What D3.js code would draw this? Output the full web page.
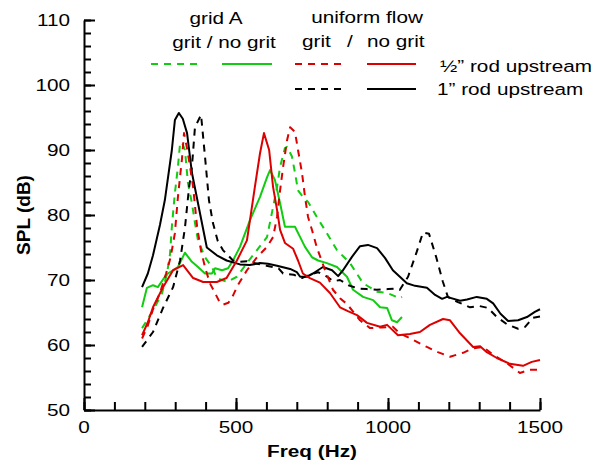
<!DOCTYPE html>
<meta charset="UTF-8">
<style>
    body { margin: 0; background: #fff; }
    text { font-family: "Liberation Sans", Arial, sans-serif; fill: #000; }
    .line { fill: none; stroke-width: 2px; stroke-linejoin: round; }
    .dash { stroke-dasharray: 7, 6; }
    .axis path, .axis line { stroke: #000; stroke-width: 2px; }
</style>
<body>
<div id="chart"></div>
<script src="https://d3js.org/d3.v7.min.js"></script>
<script>

// data: [freq (Hz), SPL (dB)]
var gridGrit = [[191,62.6],[207,63.8],[233,65.8],[257,68],[273,71],[283,74],[289,78.2],[299,83.4],[309,87.4],[316,91],[322,91.2],[332,90],[342,84.9],[355,81.8],[365,78.8],[375,76.1],[398,73.5],[421,72],[437,70.3],[454,70],[470,69.7],[503,70.5],[536,72.6],[569,74.6],[602,76.6],[618,80.3],[635,84.3],[645,87.4],[661,90.3],[668,90.5],[684,89],[694,86.5],[704,83.8],[720,82.8],[737,82],[766,79.7],[799,77.2],[832,74.6],[875,72.6],[918,69.5],[964,68.2],[997,68],[1039,67.2],[1046,67.4]];

var gridNoGrit = [[191,65.8],[207,68.8],[227,69.2],[243,68.9],[266,70.5],[276,71],[309,72],[332,74.2],[355,72.8],[375,72],[398,71],[421,71],[431,71.8],[454,71.5],[474,71.8],[490,73],[513,75.1],[546,79.2],[579,82.8],[602,85.8],[612,86.9],[628,85.4],[645,81.8],[661,78.2],[694,78.2],[711,76.6],[727,75.1],[750,73.5],[770,73],[799,72.6],[832,72],[865,70.5],[885,68.5],[918,67.4],[951,66.9],[974,65.8],[997,65.7],[1013,63.8],[1030,63.5],[1046,64.3]];

var halfRodGrit = [[191,61],[210,63],[227,65.5],[250,68],[270,71],[285,73.5],[299,77.2],[309,82.8],[322,88.5],[329,92.6],[340,90],[349,87.4],[359,84.3],[372,78.2],[385,74.5],[398,72],[414,69.5],[431,68],[447,66.5],[457,66.2],[475,66.5],[490,67.6],[506,69.2],[536,71.5],[569,73.5],[602,75.1],[622,76.6],[635,79.7],[645,83.8],[655,87.4],[668,91.5],[678,93.5],[694,92.8],[704,90],[717,86.5],[727,82.8],[737,79.7],[750,77.7],[766,75],[793,71.5],[819,68.5],[842,67.2],[865,66.3],[908,63.8],[941,62.6],[980,62.7],[1016,62.8],[1039,61.8],[1082,60.8],[1128,59.7],[1164,58.9],[1204,58.2],[1247,58.8],[1280,59.5],[1313,59.7],[1346,58.5],[1391,57.2],[1434,55.7],[1467,56.2],[1500,56.2]];

var halfRodNoGrit = [[191,61.5],[210,63.5],[227,65.8],[260,68.9],[293,71.5],[326,72.3],[359,70.3],[392,69.7],[437,69.7],[469,70.3],[503,73],[536,76.1],[546,79.2],[562,84.3],[579,89.5],[592,92.6],[609,90],[622,84.3],[635,80.8],[645,77.7],[661,75.7],[688,74.8],[704,73],[720,71],[743,70.3],[776,69.6],[809,68],[842,65.8],[868,65.2],[898,64.6],[931,63.4],[974,62.8],[997,63.1],[1033,61.5],[1072,61.7],[1105,62],[1138,63.1],[1181,64],[1204,63.8],[1237,61.8],[1280,59.7],[1303,59.8],[1325,58.9],[1358,58],[1401,57.1],[1444,56.8],[1473,57.4],[1500,57.7]];

var oneRodGrit = [[191,59.7],[227,62],[260,65.7],[293,68.9],[316,73],[332,78],[345,84],[355,87.4],[365,93.5],[385,95.4],[398,89],[411,82.3],[424,78.8],[440,76],[457,74.6],[490,73],[513,72.8],[535,72.9],[570,72.5],[600,72.2],[640,71.8],[655,71],[690,70.8],[717,70.3],[740,70.8],[770,71.2],[800,70.5],[820,69.8],[842,70],[870,69.2],[901,68.7],[930,68.6],[963,68.5],[1000,68.6],[1030,68.7],[1039,68.5],[1066,70.5],[1095,74.4],[1115,77.3],[1135,77.1],[1158,73.6],[1180,69.8],[1197,67.4],[1230,66.6],[1270,65.8],[1300,66],[1329,65.7],[1358,64.3],[1391,63.2],[1428,62.5],[1451,62.8],[1477,64.2],[1500,64.4]];

var oneRodNoGrit = [[191,68.9],[210,71],[227,73.8],[250,78.5],[266,82.3],[289,90],[299,94.6],[312,95.7],[325,94.8],[339,92.6],[355,86.5],[375,81.8],[404,75],[437,73.8],[469,73],[513,72.4],[545,72.3],[579,72.6],[605,72.5],[635,72.2],[678,71.7],[700,71.2],[711,70.5],[733,70.5],[753,71],[786,72],[816,71.5],[836,70.6],[852,71.5],[882,73.6],[908,75.2],[934,75.4],[964,74.9],[990,73.4],[1016,71.5],[1039,70.5],[1062,69.5],[1089,69.1],[1128,68.8],[1155,67.7],[1178,67.1],[1194,67.4],[1237,66.8],[1260,67],[1292,67.4],[1325,67.1],[1346,66.4],[1370,64.8],[1395,63.7],[1428,63.8],[1457,64.3],[1483,65.1],[1500,65.5]];

var xTicks = [0, 500, 1000, 1500];
var yTicks = [50, 60, 70, 80, 90, 100, 110];

var green = "#11cc11", red = "#dd0000", black = "#000000";

var series = [
    {data: gridGrit, color: green, dash: true},
    {data: gridNoGrit, color: green, dash: false},
    {data: oneRodGrit, color: black, dash: true},
    {data: oneRodNoGrit, color: black, dash: false},
    {data: halfRodGrit, color: red, dash: true},
    {data: halfRodNoGrit, color: red, dash: false}
];

var width = 599, height = 462;
var sx = 1.22; // the text in the picture is wide

var svg = d3.select("#chart").append("svg")
    .attr("width", width)
    .attr("height", height);

// set the ranges
var x = d3.scaleLinear().domain([0, 1500]).range([84, 540]);
var y = d3.scaleLinear().domain([50, 110]).range([410, 20]);

// wide text helper
function label(txt, tx, ty, anchor, size, weight) {
    return svg.append("text")
        .attr("transform", "translate(" + tx + "," + ty + ") scale(" + sx + ",1)")
        .attr("text-anchor", anchor || "start")
        .style("font-size", (size || 17) + "px")
        .style("font-weight", weight || "normal")
        .text(txt);
}

// minor ticks
svg.append("g").attr("class", "axis")
    .attr("transform", "translate(84,0)")
    .call(d3.axisLeft(y).tickValues(d3.range(50, 111, 2)).tickSize(-7).tickFormat(""))
    .select(".domain").remove();
svg.append("g").attr("class", "axis")
    .attr("transform", "translate(0,410)")
    .call(d3.axisBottom(x).tickValues(d3.range(0, 1501, 100)).tickSize(-8).tickFormat(""))
    .select(".domain").remove();

// major ticks and axis lines
svg.append("g").attr("class", "axis")
    .attr("transform", "translate(84,0)")
    .call(d3.axisLeft(y).tickValues(yTicks).tickSize(-11).tickSizeOuter(0).tickFormat(""));
svg.append("g").attr("class", "axis")
    .attr("transform", "translate(0,410)")
    .call(d3.axisBottom(x).tickValues(xTicks).tickSize(-12).tickSizeOuter(0).tickFormat(""));

// tick labels
yTicks.forEach(function(v) { label(v, 70, y(v) + 6, "end"); });
xTicks.forEach(function(v) { label(v, x(v), 433, "middle"); });

// axis titles
label("Freq (Hz)", 312, 457, "middle", 17, "bold");
svg.append("text")
    .attr("transform", "translate(30,215) rotate(-90)")
    .attr("text-anchor", "middle")
    .style("font-size", "19px")
    .style("font-weight", "bold")
    .text("SPL (dB)");

// the curves
var line = d3.line()
    .x(function(d) { return x(d[0]); })
    .y(function(d) { return y(d[1]); });

series.forEach(function(s) {
    svg.append("path")
        .datum(s.data)
        .attr("class", s.dash ? "line dash" : "line")
        .attr("stroke", s.color)
        .attr("d", line);
});

// legend
label("grid A", 216, 24, "middle");
label("grit / no grit", 224, 48, "middle");
label("uniform flow", 367, 23, "middle");
label("grit", 302, 47);
label("/", 347, 47);
label("no grit", 367, 47);
label("\u00bd\u201d rod upstream", 440, 72);
label("1\u201d rod upstream", 437, 95);

var legendRows = [
    {x1: 151, x2: 201, ly: 64, color: green, dash: true},
    {x1: 222, x2: 272, ly: 64, color: green, dash: false},
    {x1: 295, x2: 343, ly: 64, color: red, dash: true},
    {x1: 367, x2: 416, ly: 64, color: red, dash: false},
    {x1: 295, x2: 343, ly: 89, color: black, dash: true},
    {x1: 367, x2: 416, ly: 89, color: black, dash: false}
];
legendRows.forEach(function(r) {
    svg.append("line")
        .attr("class", r.dash ? "line dash" : "line")
        .attr("x1", r.x1).attr("x2", r.x2)
        .attr("y1", r.ly).attr("y2", r.ly)
        .attr("stroke", r.color);
});

</script>
</body>
